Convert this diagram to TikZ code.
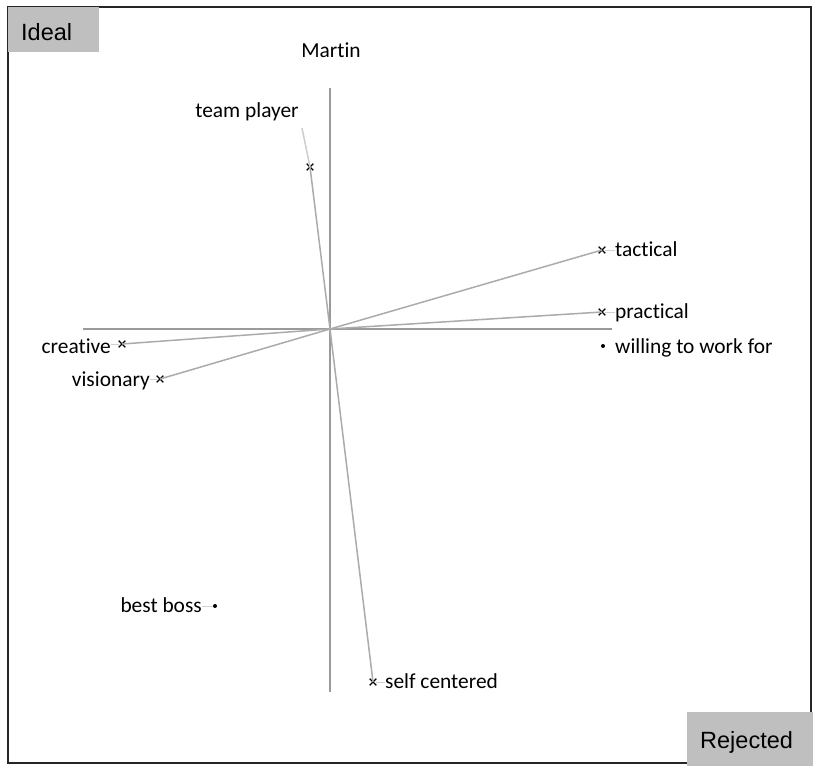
\documentclass[tikz,border=0pt]{standalone}
\usepackage{fontspec}
\setmainfont[Ligatures={NoCommon,NoContextual}]{Carlito}
\newfontfamily\boxfont{Liberation Sans}
\usetikzlibrary{shapes.misc}
\definecolor{axisgray}{HTML}{9A9A9A}
\definecolor{vecgray}{HTML}{ABABAB}
\definecolor{cornergray}{HTML}{BFBFBF}
\begin{document}
\begin{tikzpicture}[x=1pt,y=-1pt,
  lbl/.style={inner sep=0pt,font=\fontsize{21.4}{25}\selectfont},
  cornerbox/.style={fill=cornergray,inner sep=0pt},
  tagtext/.style={inner sep=0pt,font=\boxfont\fontsize{23.5}{28}\selectfont},
  axis/.style={draw=axisgray,line width=2pt},
  vec/.style={draw=vecgray,line width=1.5pt},
  lead/.style={draw=vecgray!55,line width=0.7pt},
  xmark/.style={cross out,draw=black,line width=1.2pt,minimum size=5.5pt,inner sep=0pt},
  dotmark/.style={circle,fill=black,minimum size=4pt,inner sep=0pt}]
\useasboundingbox (0,0) rectangle (814,767);
% frame
\draw[line width=1.3pt,draw=black!85] (8,7) rectangle (811,763);
% axes
\coordinate (o) at (330,329);
\coordinate (vt) at (330,88);
\coordinate (vb) at (330,692);
\coordinate (hl) at (83,329);
\coordinate (hr) at (612,329);
\draw[axis] (vt) -- (vb);
\draw[axis] (hl) -- (hr);
% construct markers
\node[xmark] (tp) at (310,167) {};
\coordinate (tpend) at (302,128);
\node[xmark] (ta) at (602,250) {};
\node[xmark] (pr) at (602,312) {};
\node[xmark] (cr) at (122,344) {};
\node[xmark] (vi) at (160,379) {};
\node[xmark] (sc) at (373,682) {};
\node[dotmark] (wi) at (603,346) {};
\node[dotmark] (bb) at (215,606) {};
% vectors from the origin
\draw[vec] (o) -- (tp.center);
\draw[draw=vecgray!60,line width=1.5pt] (tp.center) -- (tpend);
\draw[vec] (o) -- (ta.center);
\draw[vec] (o) -- (pr.center);
\draw[vec] (o) -- (cr.center);
\draw[vec] (o) -- (vi.center);
\draw[vec] (o) -- (sc.center);
% labels
\node[lbl,anchor=base] (martin) at (331,58) {Martin};
\node[lbl,anchor=base] (tpl) at (247,118) {team player};
\node[lbl,anchor=base west] (tal) at (615,257) {tactical};
\node[lbl,anchor=base west] (prl) at (615,319) {practical};
\node[lbl,anchor=base west] (wil) at (615,353) {willing to work for};
\node[lbl,anchor=base east] (crl) at (111,353) {creative};
\node[lbl,anchor=base east] (vil) at (150,386) {visionary};
\node[lbl,anchor=base east] (bbl) at (202,612) {best boss};
\node[lbl,anchor=base west] (scl) at (385,688) {self centered};
% short leaders between markers and labels
\draw[lead] (ta.east) -- (tal.west |- ta);
\draw[lead] (pr.east) -- (prl.west |- pr);
\draw[lead] (crl.east |- cr) -- (cr.west);
\draw[lead] (vil.east |- vi) -- (vi.west);
\draw[lead] (bbl.east |- bb) -- (bb.west);
\draw[lead] (sc.east) -- (scl.west |- sc);
% corner tags
\node[cornerbox,minimum width=91pt,minimum height=45pt,anchor=north west] (ideal) at (8,7) {};
\node[tagtext,anchor=base west] (idealtxt) at (21,41) {Ideal};
\node[cornerbox,minimum width=126pt,minimum height=54pt,anchor=north west] (rej) at (687,712) {};
\node[tagtext,anchor=base west] (rejtxt) at (700,748) {Rejected};
\end{tikzpicture}
\end{document}
